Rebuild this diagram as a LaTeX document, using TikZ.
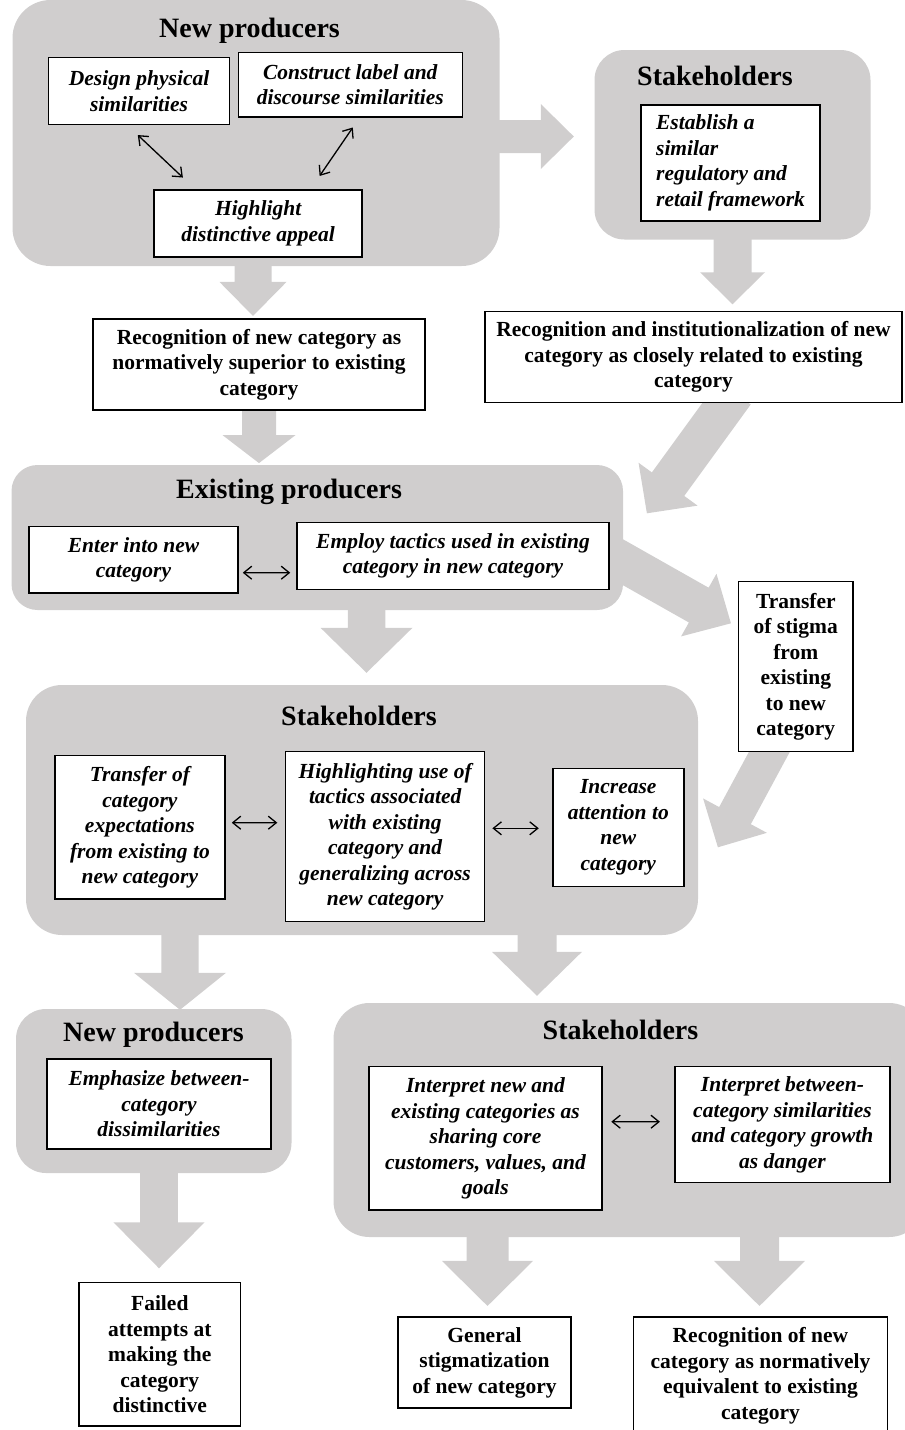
\documentclass[tikz,border=0pt]{standalone}
\usepackage{fontspec}
\setmainfont{Liberation Serif}
\usetikzlibrary{calc,arrows.meta,backgrounds}
\definecolor{panelgray}{RGB}{208,206,206}

\tikzset{
  panel/.style={fill=panelgray, draw=none, rounded corners=30pt, inner sep=0pt},
  paneltitle/.style={anchor=base, inner sep=0pt, font=\fontsize{28}{32}\selectfont\bfseries},
  wbox/.style={draw=black, fill=white, line width=1.5pt, inner sep=4pt, align=center,
    font=\fontsize{21.5}{25.5}\selectfont\bfseries\itshape},
  rbox/.style={wbox, font=\fontsize{21.5}{25.5}\selectfont\bfseries},
  link/.style={line width=1.3pt,
    {Straight Barb[length=8pt,width=13pt]}-{Straight Barb[length=8pt,width=13pt]}},
}

% broad block arrow: name, start, tip, half shaft width, half head width, head length
\newcommand\blockarrow[6]{%
  \coordinate (#1-s) at (#2);
  \coordinate (#1-e) at (#3);
  \coordinate (#1-h) at ($(#1-e)!#6!(#1-s)$);
  \fill[panelgray]
    ($(#1-s)!#4!90:(#1-e)$) -- ($(#1-h)!#4!90:(#1-e)$) -- ($(#1-h)!#5!90:(#1-e)$)
    -- (#1-e)
    -- ($(#1-h)!#5!-90:(#1-e)$) -- ($(#1-h)!#4!-90:(#1-e)$) -- ($(#1-s)!#4!-90:(#1-e)$)
    -- cycle;
}

\begin{document}
\begin{tikzpicture}[x=1pt,y=-1pt]
\useasboundingbox (0,0) rectangle (905,1430);
\clip (0,0) rectangle (905,1430);

% ---------- grey panels ----------
\node[panel, rounded corners=38pt, minimum width=487pt, minimum height=266pt] (np1) at (256,133) {};
\node[panel, minimum width=276pt, minimum height=189.5pt] (st1) at (732.5,144.75) {};
\node[panel, rounded corners=26pt, minimum width=611.5pt, minimum height=145pt] (ep) at (317.25,537.5) {};
\node[panel, rounded corners=36pt, minimum width=672pt, minimum height=250pt] (st2) at (362,810) {};
\node[panel, rounded corners=30pt, minimum width=275.5pt, minimum height=164pt] (np3) at (153.75,1091) {};
\node[panel, rounded corners=36pt, minimum width=591.5pt, minimum height=234pt] (st3) at (629.25,1120) {};

% ---------- panel titles ----------
\node[paneltitle] (np1t) at (249.5,37.7) {New producers};
\node[paneltitle] (st1t) at (715,85) {Stakeholders};
\node[paneltitle] (ept) at (289,498) {Existing producers};
\node[paneltitle] (st2t) at (359,725) {Stakeholders};
\node[paneltitle] (np3t) at (153.5,1041) {New producers};
\node[paneltitle] (st3t) at (620.5,1039) {Stakeholders};

% ---------- boxes ----------
\node[wbox, minimum width=181pt, minimum height=66.6pt] (dps) at (139.1,91) {Design physical\\similarities};
\node[wbox, minimum width=224pt, minimum height=64.7pt] (cld) at (350.3,84.7) {Construct label and\\discourse similarities};
\node[wbox, minimum width=208pt, minimum height=67pt] (hda) at (258.2,223.5) {Highlight\\distinctive appeal};
\node[wbox, align=left, minimum width=179pt, minimum height=116pt] (est) at (730.5,163) {Establish a\\similar\\regulatory and\\retail framework};

\node[rbox, minimum width=332pt, minimum height=91pt] (rec1) at (259,364.5) {Recognition of new category as\\normatively superior to existing\\category};
\node[rbox, minimum width=417pt, minimum height=91pt] (rec2) at (693.5,357.2) {Recognition and institutionalization of new\\category as closely related to existing\\category};

\node[wbox, minimum width=209pt, minimum height=66.3pt] (enter) at (133.5,559.85) {Enter into new\\category};
\node[wbox, minimum width=312pt, minimum height=66.6pt] (employ) at (453,556) {Employ tactics used in existing\\category in new category};

\node[rbox, minimum width=114.4pt, minimum height=170pt] (stigma) at (795.8,666.7) {Transfer\\of stigma\\from\\existing\\to new\\category};

\node[wbox, minimum width=170.2pt, minimum height=143.3pt] (tce) at (139.9,827.35) {Transfer of\\category\\expectations\\from existing to\\new category};
\node[wbox, minimum width=199pt, minimum height=170pt] (hut) at (385.15,836.7) {Highlighting use of\\tactics associated\\with existing\\category and\\generalizing across\\new category};
\node[wbox, minimum width=131pt, minimum height=118.4pt] (iat) at (618.3,827.5) {Increase\\attention to\\new\\category};

\node[wbox, minimum width=224pt, minimum height=90pt] (ebc) at (159,1104) {Emphasize between-\\category\\dissimilarities};
\node[wbox, minimum width=233pt, minimum height=143.3pt] (inec) at (485.5,1138.35) {Interpret new and\\existing categories as\\sharing core\\customers, values, and\\goals};
\node[wbox, minimum width=215pt, minimum height=116pt] (ibc) at (782.5,1124.7) {Interpret between-\\category similarities\\and category growth\\as danger};

\node[rbox, minimum width=161.6pt, minimum height=143.3pt] (failed) at (159.8,1354.35) {Failed\\attempts at\\making the\\category\\distinctive};
\node[rbox, minimum width=173pt, minimum height=91pt] (general) at (484.5,1362.5) {General\\stigmatization\\of new category};
\node[rbox, minimum width=254pt, minimum height=118pt] (rec3) at (760.5,1376) {Recognition of new\\category as normatively\\equivalent to existing\\category};

% ---------- broad flow arrows ----------
\begin{scope}[on background layer]
\blockarrow{a1}{$(np1.east)+(-10,3.5)$}{$(st1.west)+(-20.5,-8.25)$}{16.5pt}{32.5pt}{33pt}
\blockarrow{a2}{$(np1.south)+(-3,-10)$}{$(rec1.north)+(-6,-2.3)$}{18.5pt}{33.5pt}{34pt}
\blockarrow{a3}{$(st1.south)+(0,-10)$}{$(rec2.north)+(39,-6.7)$}{19pt}{32.5pt}{32pt}
\blockarrow{a4}{$(rec1.south)+(0,-10)$}{$(ep.north)+(-58.25,-1.7)$}{17pt}{36.5pt}{28pt}
\blockarrow{a5}{$(rec2.south)+(41,-10.7)$}{$(ep.east)+(23.7,-24.2)$}{20pt}{36.5pt}{36pt}
\blockarrow{a6}{$(ep.east)+(-13,17.5)$}{$(stigma.west)+(-6.9,-43.4)$}{20pt}{36pt}{37pt}
\blockarrow{a7}{$(ep.south)+(49.25,-10)$}{$(st2.north)+(4.5,-12)$}{18.75pt}{46pt}{45pt}
\blockarrow{a8}{$(stigma.south)+(-19.2,-14)$}{$(st2.east)+(19.7,37.3)$}{18pt}{36.25pt}{36pt}
\blockarrow{a9}{$(st2.south)+(-182,-10)$}{$(np3.north)+(26.25,1)$}{18.7pt}{46pt}{37pt}
\blockarrow{a10}{$(st2.south)+(175,-10)$}{$(st3.north)+(-92.25,-7)$}{19.5pt}{45pt}{44pt}
\blockarrow{a11}{$(np3.south)+(5.25,-10)$}{$(failed.north)+(-0.8,-13.7)$}{18.85pt}{45.65pt}{46pt}
\blockarrow{a12}{$(st3.south)+(-141.75,-10)$}{$(general.north)+(3,-10.3)$}{21pt}{45.5pt}{45pt}
\blockarrow{a13}{$(st3.south)+(130.25,-10)$}{$(rec3.north)+(-1,-10.3)$}{19.5pt}{45.5pt}{45pt}
\end{scope}

% ---------- two-way links ----------
\draw[link] ($(dps.south)+(-1.3,10)$) -- ($(hda.north)+(-75.3,-11.7)$);
\draw[link] ($(cld.south)+(2.5,9.7)$) -- ($(hda.north)+(61.4,-13.3)$);
\draw[link] ($(enter.east)+(4,12.85)$) -- ($(employ.west)+(-6,16.7)$);
\draw[link] ($(tce.east)+(6,-4.65)$) -- ($(hut.west)+(-7.6,-14)$);
\draw[link] ($(hut.east)+(7,-8.4)$) -- ($(iat.west)+(-13.3,0.8)$);
\draw[link] ($(inec.east)+(8.5,-16.65)$) -- ($(ibc.west)+(-14.3,-3)$);
\end{tikzpicture}
\end{document}
